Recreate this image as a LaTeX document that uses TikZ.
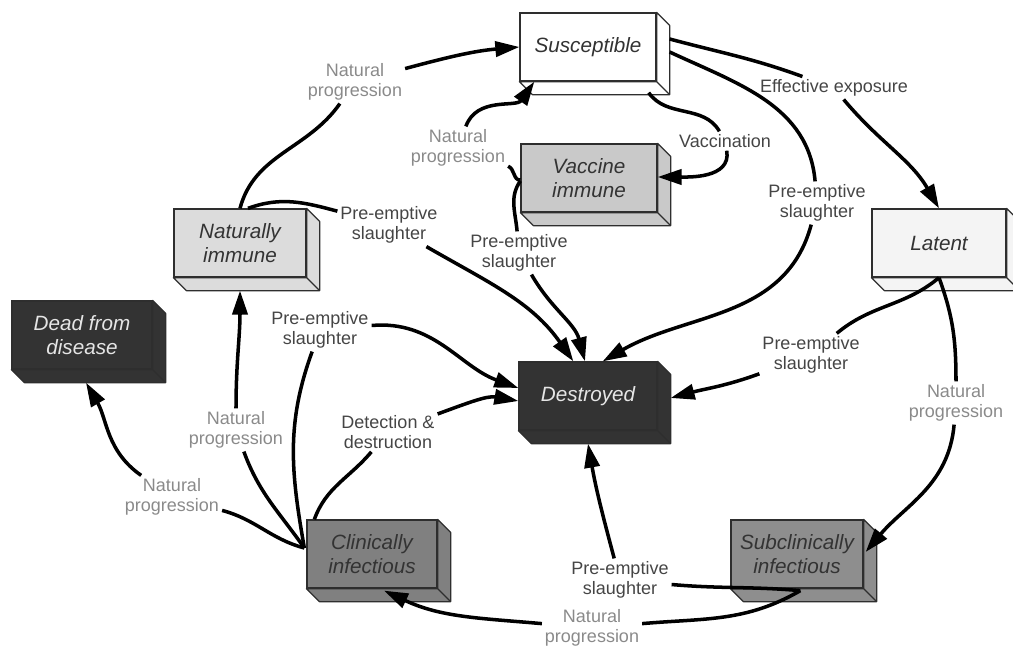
\documentclass[tikz,border=0pt]{standalone}
\usepackage{fontspec}
\setmainfont{Liberation Sans}
\usetikzlibrary{arrows.meta,calc}

\definecolor{edgegray}{HTML}{2E2E2E}
\definecolor{natgray}{HTML}{8A8A8A}
\definecolor{cutgray}{HTML}{454545}
\definecolor{fillS}{HTML}{FFFFFF}
\definecolor{fillV}{HTML}{C9C9C9}
\definecolor{fillN}{HTML}{DCDCDC}
\definecolor{fillL}{HTML}{F4F4F4}
\definecolor{fillD}{HTML}{333333}
\definecolor{fillC}{HTML}{808080}
\definecolor{fillU}{HTML}{8E8E8E}

\begin{document}
\begin{tikzpicture}[x=0.025cm, y=0.025cm,
    block/.style={draw=edgegray, line width=0.9pt, inner sep=0pt, minimum width=3.4cm, minimum height=1.7cm,
      align=center, text=black!80, font=\fontsize{14.7}{17.5}\selectfont\itshape},
    darkblock/.style={block, text=black!10},
    lbl/.style={align=center, inner sep=2pt, text=cutgray, font=\fontsize{12.8}{14.4}\selectfont},
    natlbl/.style={lbl, text=natgray},
    flow/.style={line width=2.5pt, -{Triangle[length=6mm, width=3.8mm]}}]
  \useasboundingbox (0,0) rectangle (1013,-650);

  % compartments
  \node[block, fill=fillS] (sus) at (588,-47) {Susceptible};
  \node[block, fill=fillV] (vac) at (589,-178) {Vaccine\\immune};
  \node[block, fill=fillN, minimum width=3.3cm] (nat) at (240,-243) {Naturally\\immune};
  \node[block, fill=fillL, minimum width=3.35cm] (lat) at (939,-243) {Latent};
  \node[darkblock, fill=fillD, minimum width=3.5cm] (dead) at (82,-335) {Dead from\\disease};
  \node[darkblock, fill=fillD, minimum width=3.45cm] (des) at (588,-396) {Destroyed};
  \node[block, fill=fillC, minimum width=3.25cm] (cli) at (372,-554) {Clinically\\infectious};
  \node[block, fill=fillU, minimum width=3.3cm] (sub) at (797,-554) {Subclinically\\infectious};

  % depth of the boxes
  \foreach \b/\c in {sus/fillS, vac/fillV, nat/fillN, lat/fillL, dead/fillD, des/fillD, cli/fillC, sub/fillU}
    \filldraw[fill=\c, draw=edgegray, line width=0.9pt, line join=round]
      (\b.north east) -- ++(13,-13) -- ($(\b.south east)+(13,-13)$)
      -- ($(\b.south west)+(13,-13)$) -- (\b.south west) -- (\b.south east) -- cycle
      (\b.south east) -- ++(13,-13);

  % transition labels
  \node[natlbl] (l1) at (355,-82) {Natural\\progression};
  \node[natlbl] (l2) at (458,-148) {Natural\\progression};
  \node[lbl] (l3) at (725,-141) {Vaccination};
  \node[lbl] (l4) at (834,-88) {Effective exposure};
  \node[lbl] (l5) at (817,-203) {Pre-emptive\\slaughter};
  \node[lbl] (l6) at (389,-225) {Pre-emptive\\slaughter};
  \node[lbl] (l7) at (519,-253) {Pre-emptive\\slaughter};
  \node[lbl] (l8) at (320,-330) {Pre-emptive\\slaughter};
  \node[lbl] (l9) at (388,-432) {Detection \&\\destruction};
  \node[natlbl] (l10) at (236,-430) {Natural\\progression};
  \node[natlbl] (l11) at (172,-497) {Natural\\progression};
  \node[lbl] (l12) at (811,-355) {Pre-emptive\\slaughter};
  \node[natlbl] (l13) at (956,-403) {Natural\\progression};
  \node[lbl] (l14) at (620,-580) {Pre-emptive\\slaughter};
  \node[natlbl] (l15) at (592,-628) {Natural\\progression};

  % transitions
  \draw[flow] (nat.north) to[out=75,in=235] (l1) to[out=15,in=185] (sus.west);
  \draw[flow] ($(vac.west)+(0,-2)$) to[out=185,in=-20] (l2) to[out=70,in=235] ($(sus.south west)+(15,0)$);
  \draw[flow] ($(sus.south east)+(-8,-11)$) to[out=-55,in=120] (l3) to[out=-80,in=0] ($(vac.east)+(0,1)$);
  \draw[flow] ($(sus.east)+(13,8)$) to[out=-15,in=160] (l4) to[out=-50,in=120] (lat.north);
  \draw[flow] ($(sus.east)+(13,-5)$) to[out=-25,in=95] (l5) to[out=-105,in=30] ($(des.north east)+(-55,0)$);
  \draw[flow] ($(nat.north)+(8,0)$) to[out=20,in=165] (l6) to[out=-30,in=125] ($(des.north west)+(55,0)$);
  \draw[flow] ($(vac.west)+(0,-3)$) to[out=235,in=95] (l7) to[out=-60,in=105] ($(des.north)+(-3,0)$);
  \draw[flow] ($(cli.west)+(-2,6)$) to[out=100,in=-110] (l8) to[out=5,in=160] ($(des.west)+(0,8)$);
  \draw[flow] ($(cli.north west)+(8,0)$) to[out=70,in=-130] (l9) to[out=20,in=170] ($(des.west)+(0,-5)$);
  \draw[flow] ($(cli.west)+(-2,6)$) to[out=125,in=-70] (l10) to[out=90,in=-90] ($(nat.south)+(0,-13)$);
  \draw[flow] ($(cli.west)+(-2,6)$) to[out=165,in=-15] (l11) to[out=145,in=-60] ($(dead.south)+(4,-13)$);
  \draw[flow] (lat.south) to[out=-140,in=40] (l12) to[out=-160,in=15] ($(des.east)+(13,-2)$);
  \draw[flow] (lat.south) to[out=-70,in=90] (l13) to[out=-95,in=50] ($(sub.east)+(2,2)$);
  \draw[flow] ($(sub.south west)+(70,-2)$) to[out=175,in=-5] (l14) to[out=105,in=-80] ($(des.south)+(0,-13)$);
  \draw[flow] ($(sub.south west)+(70,-2)$) to[out=-150,in=5] (l15) to[out=175,in=-25] ($(cli.south)+(12,-2)$);
\end{tikzpicture}
\end{document}
